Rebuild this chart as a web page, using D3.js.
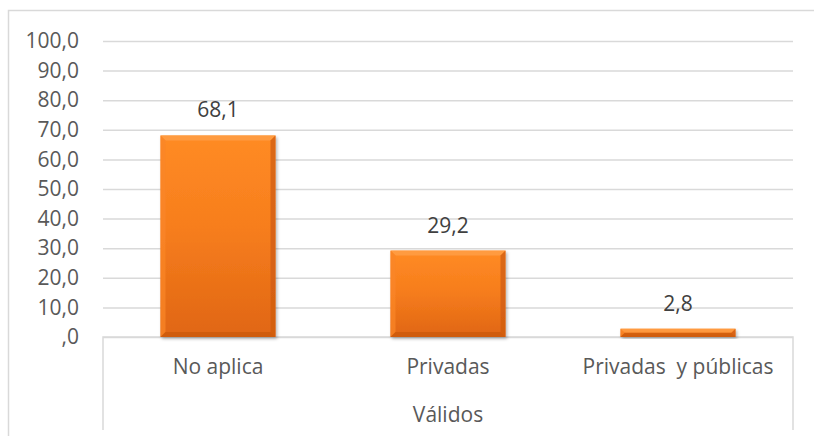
<!DOCTYPE html>
<html>
<head>
<meta charset="utf-8">
<script src="https://cdn.jsdelivr.net/npm/d3@7"></script>
<style>
  body { margin: 0; background: #fff; }
  svg text { font-family: "Open Sans", sans-serif; fill: #595959; }
</style>
</head>
<body>
<div id="chart"></div>
<script>
// data
var categories = ["No aplica", "Privadas", "Privadas  y públicas"];
var values = [68.1, 29.2, 2.8];
var groupLabel = "Válidos";
var yTicks = [0, 10, 20, 30, 40, 50, 60, 70, 80, 90, 100];

var width = 814, height = 436;
var margin = {left: 103, right: 21, top: 41, bottom: 99};

// Excel style "#,0" -> ",0" for zero
var fmt = function(v) {
  var s = v.toFixed(1).replace(".", ",");
  return s.indexOf("0,") == 0 ? s.slice(1) : s;
};

var svg = d3.select("#chart")
  .append("svg")
  .attr("width", width)
  .attr("height", height);

var defs = svg.append("defs");

var grad = defs.append("linearGradient")
  .attr("id", "barFill")
  .attr("x1", 0).attr("y1", 0).attr("x2", 0).attr("y2", 1);
grad.append("stop").attr("offset", "0%").attr("stop-color", "#ff8b24");
grad.append("stop").attr("offset", "45%").attr("stop-color", "#f77e1d");
grad.append("stop").attr("offset", "100%").attr("stop-color", "#e06614");

var shadow = defs.append("filter")
  .attr("id", "shadow")
  .attr("x", "-10%").attr("y", "-10%")
  .attr("width", "130%").attr("height", "130%");
shadow.append("feDropShadow")
  .attr("dx", 1.5).attr("dy", 2)
  .attr("stdDeviation", 1.8)
  .attr("flood-color", "#000")
  .attr("flood-opacity", 0.28);

// outer chart border
svg.append("rect")
  .attr("x", 8.5).attr("y", 10.5)
  .attr("width", 820).attr("height", 440)
  .attr("fill", "none")
  .attr("stroke", "#d9d9d9")
  .attr("stroke-width", 1.5);

var x = d3.scaleBand()
  .domain(categories)
  .range([margin.left, width - margin.right])
  .paddingInner(0.5)
  .paddingOuter(0.25);

var y = d3.scaleLinear()
  .domain([0, 100])
  .range([height - margin.bottom, margin.top]);

// gridlines + tick labels
var yAxis = svg.append("g")
  .attr("transform", "translate(" + margin.left + ",0)")
  .call(d3.axisLeft(y)
    .tickValues(yTicks)
    .tickSize(-(width - margin.left - margin.right))
    .tickPadding(24)
    .tickFormat(fmt));
yAxis.select(".domain").remove();
yAxis.selectAll(".tick line")
  .attr("stroke", "#d9d9d9")
  .attr("stroke-width", 1.5);
yAxis.selectAll(".tick text")
  .attr("font-size", "21px")
  .attr("fill", "#595959");

// category axis box
var x0 = margin.left, x1 = width - margin.right, y0 = y(0);
svg.append("path")
  .attr("d", "M" + x0 + "," + 430 + "V" + y0 + "H" + x1 + "V" + 430)
  .attr("fill", "none")
  .attr("stroke", "#d9d9d9")
  .attr("stroke-width", 1.5);

// bars with a bevel look
var bar = svg.selectAll(".bar")
  .data(values)
  .enter()
  .append("g")
  .attr("class", "bar")
  .attr("filter", "url(#shadow)");

bar.append("rect")
  .attr("x", function(d, i) { return x(categories[i]); })
  .attr("y", function(d) { return y(d); })
  .attr("width", x.bandwidth())
  .attr("height", function(d) { return y(0) - y(d); })
  .attr("fill", "url(#barFill)");

var bevel = function(d, i, side) {
  var bx = x(categories[i]), bw = x.bandwidth();
  var by = y(d), bh = y(0) - y(d);
  var b = Math.min(5, bh / 2);
  if (side == "top") return [[bx, by], [bx + bw, by], [bx + bw - b, by + b], [bx + b, by + b]];
  if (side == "bottom") return [[bx, by + bh], [bx + bw, by + bh], [bx + bw - b, by + bh - b], [bx + b, by + bh - b]];
  if (side == "left") return [[bx, by], [bx + b, by + b], [bx + b, by + bh - b], [bx, by + bh]];
  return [[bx + bw, by], [bx + bw - b, by + b], [bx + bw - b, by + bh - b], [bx + bw, by + bh]];
};
var bevelColor = {top: "#ffa04a", left: "#f98528", right: "#cf5c10", bottom: "#c9580f"};

["top", "left", "right", "bottom"].forEach(function(side) {
  bar.append("polygon")
    .attr("points", function(d, i) { return bevel(d, i, side).join(" "); })
    .attr("fill", bevelColor[side])
    .attr("opacity", 0.75);
});

// value labels
svg.selectAll(".val")
  .data(values)
  .enter()
  .append("text")
  .attr("class", "val")
  .attr("x", function(d, i) { return x(categories[i]) + x.bandwidth() / 2; })
  .attr("y", function(d) { return y(d) - 18; })
  .attr("text-anchor", "middle")
  .attr("font-size", "21px")
  .style("fill", "#404040")
  .text(fmt);

// category labels
svg.selectAll(".cat")
  .data(categories)
  .enter()
  .append("text")
  .attr("class", "cat")
  .attr("x", function(d) { return x(d) + x.bandwidth() / 2; })
  .attr("y", 374)
  .attr("text-anchor", "middle")
  .attr("font-size", "21px")
  .style("white-space", "pre")
  .text(function(d) { return d; });

svg.append("text")
  .attr("x", (x0 + x1) / 2)
  .attr("y", 422)
  .attr("text-anchor", "middle")
  .attr("font-size", "21px")
  .text(groupLabel);
</script>
</body>
</html>
